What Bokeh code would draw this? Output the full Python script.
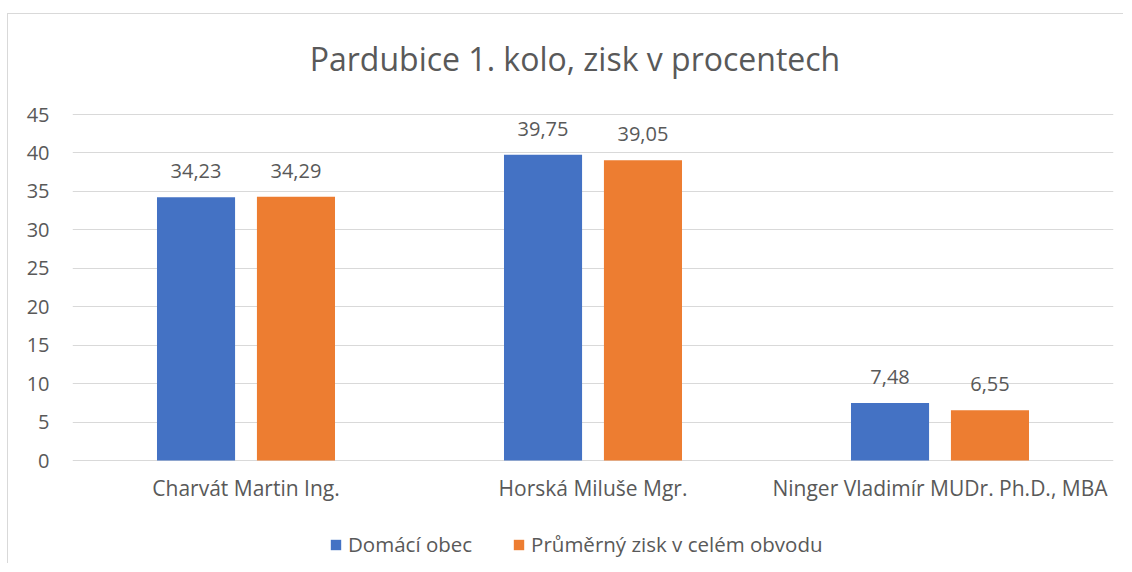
from bokeh.plotting import figure
from bokeh.models import ColumnDataSource, FactorRange, FixedTicker, LabelSet, Label, Legend, LegendItem, Range1d
from bokeh.transform import dodge
from bokeh.embed import file_html
from bokeh.resources import INLINE
from bokeh.core.properties import value

title_text = "Pardubice 1. kolo, zisk v procentech"
categories = ["Charvát Martin Ing.", "Horská Miluše Mgr.", "Ninger Vladimír MUDr. Ph.D., MBA"]
domaci_obec = [34.23, 39.75, 7.48]
prumerny_zisk = [34.29, 39.05, 6.55]
series_names = ["Domácí obec", "Průměrný zisk v celém obvodu"]
y_ticks = [0, 5, 10, 15, 20, 25, 30, 35, 40, 45]

BLUE = "#4472C4"
ORANGE = "#ED7D31"
TXT = "#595959"
GRID = "#D9D9D9"
FONT = "Open Sans"

# layout (pixels)
W, H = 1116, 550
LEFT, RIGHT = 64, 11
ZERO_PX = 446                # canvas pixel row of value 0
PX_PER_UNIT = 346 / 45       # pixels per percent
y_max = ZERO_PX / PX_PER_UNIT
y_min = -(H - ZERO_PX) / PX_PER_UNIT
TITLE_PX = 44                # canvas pixel row of title centre

def fmt(v):
    return f"{v:.2f}".replace(".", ",")

source = ColumnDataSource(data=dict(
    cat=categories,
    dom=domaci_obec,
    avg=prumerny_zisk,
    dom_lbl=[fmt(v) for v in domaci_obec],
    avg_lbl=[fmt(v) for v in prumerny_zisk],
))

p = figure(
    x_range=FactorRange(*categories), y_range=Range1d(y_min, y_max),
    width=W, height=H,
    output_backend="svg", toolbar_location=None,
    min_border_left=LEFT, min_border_right=RIGHT, min_border_top=0, min_border_bottom=0,
)
p.styles = {"margin-top": "13px", "margin-left": "7px",
            "border-top": "1px solid #d9d9d9", "border-left": "1px solid #d9d9d9"}

title = Label(x=1.5, y=y_max - TITLE_PX / PX_PER_UNIT, x_offset=-18, text=title_text,
              text_align="center", text_baseline="middle",
              text_font=FONT, text_font_size="32px", text_color=TXT)
p.add_layout(title)

r1 = p.vbar(x=dodge("cat", -0.144, range=p.x_range), top="dom", width=0.225, source=source,
            fill_color=BLUE, line_color=None)
r2 = p.vbar(x=dodge("cat", 0.144, range=p.x_range), top="avg", width=0.225, source=source,
            fill_color=ORANGE, line_color=None)

for col, lbl, off in (("dom", "dom_lbl", -0.144), ("avg", "avg_lbl", 0.144)):
    ls = LabelSet(x=dodge("cat", off, range=p.x_range), y=col, text=lbl, source=source,
                  text_align="center", text_baseline="bottom", y_offset=19,
                  text_font=value(FONT), text_font_size="20px", text_color=TXT)
    p.add_layout(ls)

p.yaxis.ticker = FixedTicker(ticks=y_ticks)
p.ygrid.ticker = FixedTicker(ticks=y_ticks)
p.ygrid.grid_line_color = GRID
p.ygrid.grid_line_width = 1
p.xgrid.grid_line_color = None
p.outline_line_color = None
p.xaxis.fixed_location = 0

for ax in (p.xaxis, p.yaxis):
    ax.axis_line_color = None
    ax.major_tick_line_color = None
    ax.minor_tick_line_color = None
    ax.major_tick_out = 0
    ax.major_tick_in = 0
    ax.major_label_text_font = FONT
    ax.major_label_text_color = TXT
p.yaxis.major_label_text_font_size = "20px"
p.xaxis.major_label_text_font_size = "21px"
p.yaxis.major_label_standoff = 23
p.xaxis.major_label_standoff = 13

legend = Legend(items=[LegendItem(label=series_names[0], renderers=[r1]),
                       LegendItem(label=series_names[1], renderers=[r2])],
                orientation="horizontal", location=(257, 6),
                padding=0, margin=0, spacing=40, glyph_width=13, glyph_height=13,
                label_standoff=6, border_line_color=None, background_fill_alpha=0,
                label_text_font=FONT, label_text_font_size="20.5px", label_text_color=TXT)
p.add_layout(legend, "center")

open("out.html", "w").write(file_html(p, INLINE))
